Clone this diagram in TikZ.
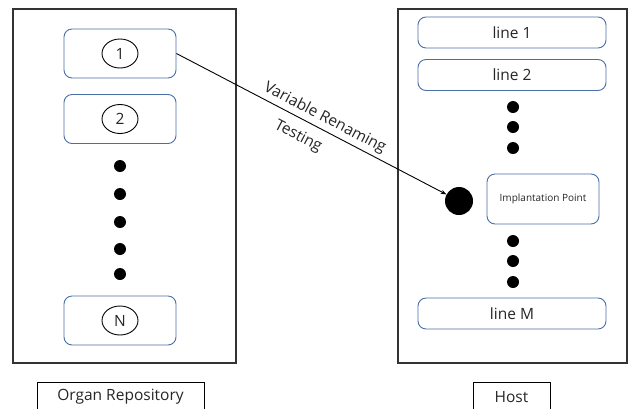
\documentclass[tikz,border=0pt]{standalone}
\usepackage{fontspec}
\setmainfont{Open Sans}
\usepackage{xcolor}
\definecolor{boxblue}{HTML}{4A6FA5}
\usetikzlibrary{arrows.meta, shapes.geometric}

\begin{document}
\begin{tikzpicture}[x=1pt, y=-1pt, >={Stealth[length=2mm]},
    every node/.style={font=\fontsize{15.5}{18}\selectfont, text=black!85},
    frame/.style={draw=black!80, line width=1.2pt},
    slot/.style={draw=boxblue, rounded corners=8pt, line width=0.9pt},
    organ/.style={slot, minimum width=112pt, minimum height=49pt},
    hostline/.style={slot, minimum width=188pt, minimum height=31pt},
    num/.style={draw, ellipse, line width=0.9pt, inner sep=0pt, minimum width=36pt, minimum height=29pt},
    dot/.style={circle, fill=black, inner sep=0pt, minimum size=12pt},
    caption/.style={draw, line width=0.9pt, minimum height=30pt, inner sep=0pt}]
  \useasboundingbox (0,0) rectangle (629,408);

  % organ repository
  \node[frame, minimum width=223pt, minimum height=354pt] (repo) at (124.5,186) {};
  \node[organ] (organ1) at (120,53.5) {};
  \node[num] (num1) at (organ1) {1};
  \node[organ] (organ2) at (120,119) {};
  \node[num] (num2) at (organ2) {2};
  \foreach \y in {166,194,222,249,274}
    \node[dot] (ldot\y) at (120,\y) {};
  \node[organ] (organN) at (120,320.5) {};
  \node[num] (numN) at (organN) {N};
  \node[caption, minimum width=167pt] (repolabel) at (120.5,397) {Organ Repository};

  % host
  \node[frame, minimum width=229pt, minimum height=354pt] (host) at (512.5,186) {};
  \node[hostline] (line1) at (512,32.5) {line 1};
  \node[hostline] (line2) at (512,75) {line 2};
  \foreach \y in {107,127,148}
    \node[dot] (rdota\y) at (513,\y) {};
  \node[slot, minimum width=112pt, minimum height=50pt, font=\fontsize{10}{12}\selectfont] (implant) at (543,199) {Implantation Point};
  \node[circle, fill=black, inner sep=0pt, minimum size=28pt] (point) at (459,201) {};
  \foreach \y in {241,261,282}
    \node[dot] (rdotb\y) at (513,\y) {};
  \node[hostline] (lineM) at (512,313.5) {line M};
  \node[caption, minimum width=77pt] (hostlabel) at (511.5,397) {Host};

  \draw[->, line width=0.9pt] (organ1.east) -- (point)
    node[pos=0.53, sloped, above=0pt] {Variable Renaming}
    node[pos=0.48, sloped, below=6pt] {Testing};
\end{tikzpicture}
\end{document}
